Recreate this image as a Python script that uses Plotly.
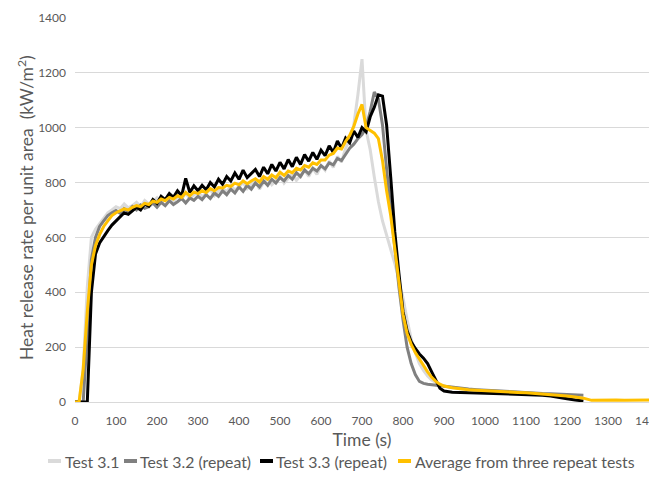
import plotly.graph_objects as go

# ---------------- data ----------------
time_s = [0, 10, 20, 30, 40, 50, 60, 70, 80, 90, 100, 110, 120, 130, 140, 150, 160, 170, 180, 190,
          200, 210, 220, 230, 240, 250, 260, 270, 280, 290, 300, 310, 320, 330, 340, 350, 360, 370, 380, 390,
          400, 410, 420, 430, 440, 450, 460, 470, 480, 490, 500, 510, 520, 530, 540, 550, 560, 570, 580, 590,
          600, 610, 620, 630, 640, 650, 660, 670, 680, 690, 700, 710, 720, 730, 740, 750, 760, 770, 780, 790,
          800, 810, 820, 830, 840, 850, 860, 870, 880, 890, 900, 920, 940, 960, 980, 1000, 1020, 1040, 1060, 1080,
          1100, 1120, 1140, 1160, 1180, 1200, 1220, 1240]

time_avg = time_s + [1260, 1280, 1300, 1320, 1340, 1360, 1380, 1400]

test_3_1 = [0, 0, 120, 420, 600, 630, 650, 670, 690, 700,
            712, 705, 722, 708, 716, 728, 712, 735, 722, 730,
            745, 726, 738, 752, 733, 748, 740, 762, 742, 755,
            768, 748, 760, 775, 752, 770, 782, 765, 790, 772,
            785, 800, 778, 795, 808, 776, 800, 815, 792, 806,
            826, 798, 815, 832, 808, 826, 845, 822, 852, 830,
            862, 845, 878, 855, 895, 875, 925, 955, 1010, 1120,
            1250, 990, 920, 820, 730, 660, 610, 560, 505, 445,
            380, 300, 230, 180, 140, 115, 95, 80, 70, 62, 57, 52, 48, 45, 43, 42, 40, 39, 37, 36,
            34, 32, 30, 28, 26, 20, 12, 8]

test_3_2 = [0, 0, 0, 250, 520, 600, 640, 660, 680, 690,
            698, 688, 705, 694, 712, 700, 718, 706, 712, 726,
            710, 728, 716, 734, 720, 730, 742, 726, 744, 735,
            750, 738, 756, 742, 762, 750, 770, 756, 776, 762,
            784, 768, 790, 776, 798, 784, 806, 790, 812, 798,
            818, 806, 826, 812, 836, 822, 846, 832, 852, 842,
            862, 850, 872, 865, 888, 880, 905, 925, 940, 960,
            975, 1000, 1060, 1130, 1105, 1010, 850, 700, 560, 420,
            300, 200, 140, 100, 75, 68, 65, 63, 62, 60, 57, 53, 50, 47, 45, 43, 41, 39, 37, 36,
            35, 33, 31, 30, 29, 28, 26, 25]

test_3_3 = [0, 0, 0, 0, 400, 540, 580, 605, 625, 645,
            660, 672, 690, 684, 698, 710, 700, 722, 714, 738,
            724, 750, 738, 760, 746, 770, 752, 815, 764, 788,
            770, 790, 774, 800, 784, 812, 794, 822, 806, 835,
            812, 845, 818, 832, 848, 822, 856, 832, 866, 842,
            874, 850, 884, 858, 892, 866, 902, 878, 910, 885,
            918, 898, 934, 910, 952, 925, 962, 945, 988, 965,
            1000, 985, 1040, 1075, 1120, 1115, 1010, 820, 620, 470,
            330, 260, 220, 195, 175, 160, 140, 110, 80, 50, 40, 36, 35, 34, 33, 33, 32, 31, 31, 30,
            29, 27, 25, 22, 18, 12, 7, 4]

average = [0, 0, 120, 330, 500, 570, 610, 640, 660, 680,
           690, 696, 704, 700, 710, 716, 712, 724, 720, 732,
           728, 740, 734, 746, 740, 752, 746, 764, 752, 766,
           760, 770, 764, 778, 770, 782, 780, 790, 786, 798,
           792, 806, 796, 806, 814, 802, 822, 812, 828, 818,
           838, 826, 842, 836, 852, 846, 862, 856, 872, 866,
           882, 882, 900, 906, 926, 922, 950, 972, 1005, 1050,
           1085, 1000, 990, 980, 960, 880, 770, 680, 560, 440,
           320, 250, 210, 180, 155, 130, 110, 90, 75, 65, 58, 52, 48, 45, 43, 41, 40, 38, 37, 35,
           34, 32, 30, 28, 26, 22, 18, 14, 6, 7, 6, 7, 6, 7, 6, 7]

series_names = ["Test 3.1", "Test 3.2 (repeat)", "Test 3.3 (repeat)", "Average from three repeat tests"]
series_colors = ["#dadada", "#808080", "#000000", "#ffc000"]

x_ticks = [0, 100, 200, 300, 400, 500, 600, 700, 800, 900, 1000, 1100, 1200, 1300, 1400]
y_ticks = [0, 200, 400, 600, 800, 1000, 1200, 1400]

x_title = "Time (s)"
y_title = "Heat release rate per unit area  (kW/m<sup>2</sup>)"

# ---------------- figure ----------------
FONT = "Lato, 'Open Sans', sans-serif"
TXT = "#595959"

fig = go.Figure()
xs = [time_s, time_s, time_s, time_avg]
ys = [test_3_1, test_3_2, test_3_3, average]
for name, col, xv, yv in zip(series_names, series_colors, xs, ys):
    fig.add_trace(go.Scatter(x=xv, y=yv, mode="lines", name=name,
                             line=dict(color=col, width=3), showlegend=False))

W, H = 649, 477
ml, mr, mt, mb = 75, 0, 18, 75
pw, ph = W - ml - mr, H - mt - mb

def px_to_paper(px, py):
    return (px - ml) / pw, (H - mb - py) / ph

# custom legend (short line swatches + text)
legend_items = [(48, 63), (124, 138), (260, 274), (398, 413)]
shapes = []
annotations = []
for (sx, tx), name, col in zip(legend_items, series_names, series_colors):
    x0, yy = px_to_paper(sx, 461)
    x1, _ = px_to_paper(sx + 13, 461)
    shapes.append(dict(type="line", xref="paper", yref="paper", x0=x0, x1=x1, y0=yy, y1=yy,
                       line=dict(color=col, width=4)))
    ax, _ = px_to_paper(tx, 461)
    annotations.append(dict(xref="paper", yref="paper", x=ax, y=yy, text=name, showarrow=False,
                            xanchor="left", yanchor="middle",
                            font=dict(family=FONT, size=15.8, color=TXT)))

# y-axis title placed at its reference position
tx, ty = px_to_paper(25, 208)
annotations.append(dict(xref="paper", yref="paper", x=tx, y=ty, text=y_title, showarrow=False,
                        textangle=-90, xanchor="center", yanchor="middle",
                        font=dict(family=FONT, size=17.5, color=TXT)))

fig.update_layout(
    width=W, height=H,
    margin=dict(l=ml, r=mr, t=mt, b=mb, autoexpand=False),
    paper_bgcolor="white", plot_bgcolor="white",
    font=dict(family=FONT, color=TXT),
    shapes=shapes, annotations=annotations,
    xaxis=dict(range=[0, 1400], tickmode="array", tickvals=x_ticks, ticktext=[str(v) for v in x_ticks],
               showgrid=False, zeroline=False, showline=True, linecolor="#d9d9d9", linewidth=1,
               ticks="", ticklabelstandoff=8, ticklabeloverflow="allow",
               tickfont=dict(family=FONT, size=12, color=TXT),
               title=dict(text=x_title, font=dict(family=FONT, size=17.5, color=TXT), standoff=6),
               automargin=False),
    yaxis=dict(range=[0, 1400], tickmode="array", tickvals=y_ticks, ticktext=[str(v) for v in y_ticks],
               showgrid=True, gridcolor="#d9d9d9", gridwidth=1, zeroline=False, showline=False,
               ticks="", ticklabelstandoff=8, ticklabeloverflow="allow",
               tickfont=dict(family=FONT, size=12, color=TXT),
               automargin=False),
)

fig.write_html("out.html", config={"displayModeBar": False},
               post_script="document.body.style.margin='0px';")
